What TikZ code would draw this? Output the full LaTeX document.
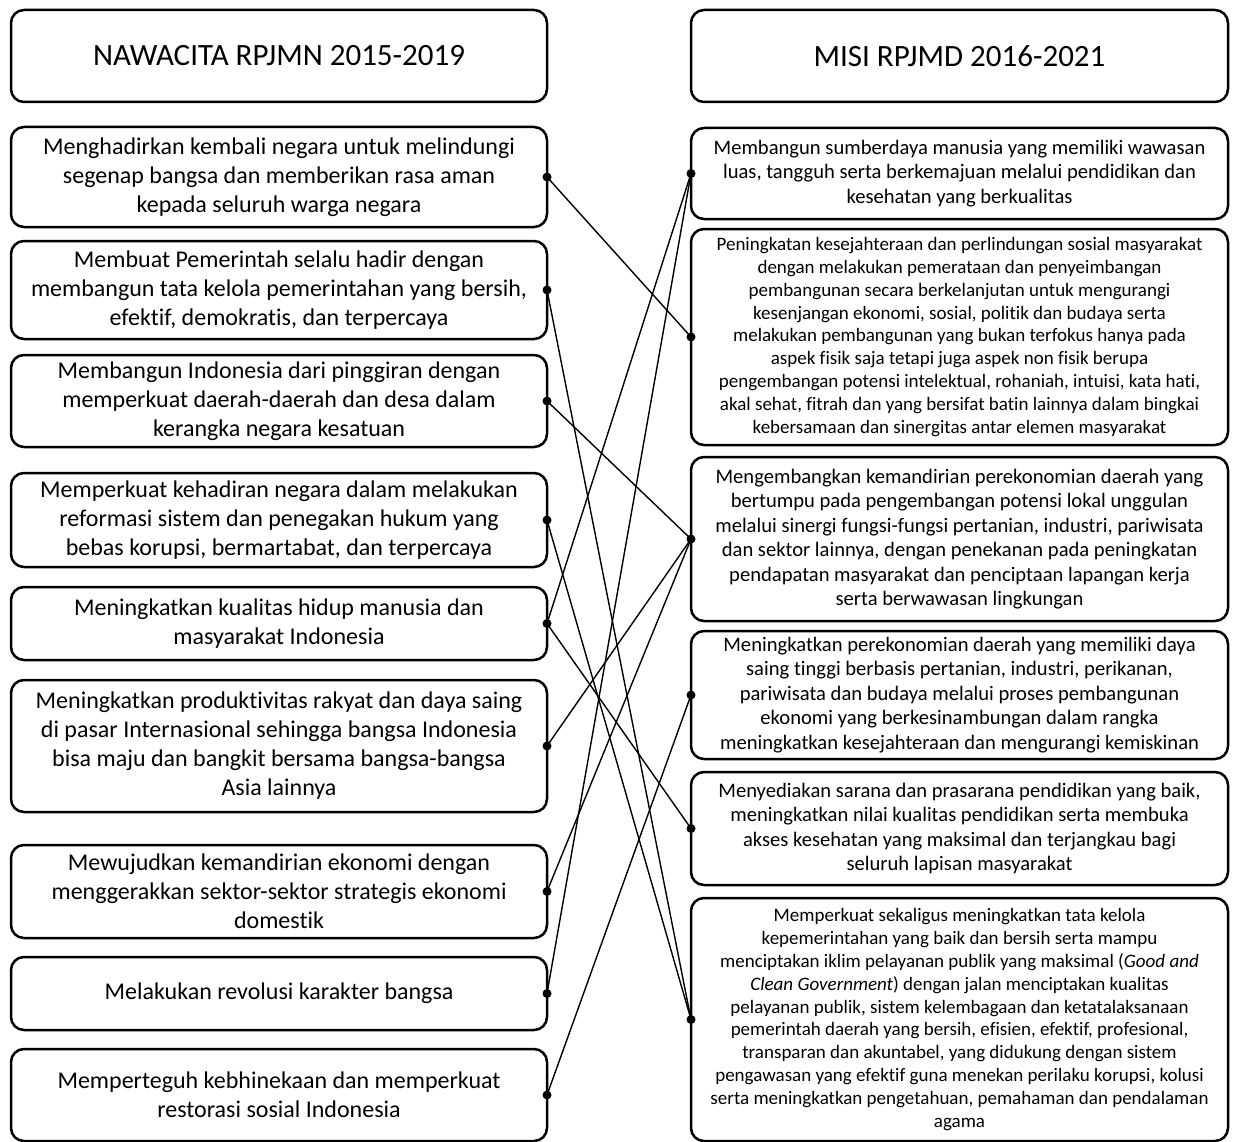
\documentclass[tikz,border=0pt]{standalone}
\usepackage{fontspec}
\setmainfont{Carlito}[Ligatures=NoCommon]
\tikzset{
  card/.style={draw, rounded corners=13, line width=2.5, outer sep=0, inner sep=0, align=center},
  title/.style={card, minimum width=536, minimum height=92, font=\fontsize{31}{36}\selectfont},
  leftbox/.style={card, minimum width=536, font=\fontsize{24}{29}\selectfont},
  rightbox/.style={card, minimum width=537, font=\fontsize{20.6}{24.5}\selectfont},
  longbox/.style={card, minimum width=537, font=\fontsize{19}{22.8}\selectfont},
  link/.style={line width=1.4}
}

\begin{document}
\begin{tikzpicture}[x=1pt, y=-1pt]
\useasboundingbox (0,0) rectangle (1236,1142);

\node [title] (TL) at (279,56) {NAWACITA RPJMN 2015-2019};
\node [title, minimum width=537] (TR) at (959.5,56) {MISI RPJMD 2016-2021};

% nawacita
\node [leftbox, minimum height=100] (L1) at (279,177) {Menghadirkan kembali negara untuk melindungi\\segenap bangsa dan memberikan rasa aman\\kepada seluruh warga negara};
\node [leftbox, minimum height=98] (L2) at (279,290) {Membuat Pemerintah selalu hadir dengan\\membangun tata kelola pemerintahan yang bersih,\\efektif, demokratis, dan terpercaya};
\node [leftbox, minimum height=92] (L3) at (279,401) {Membangun Indonesia dari pinggiran dengan\\memperkuat daerah-daerah dan desa dalam\\kerangka negara kesatuan};
\node [leftbox, minimum height=94] (L4) at (279,520) {Memperkuat kehadiran negara dalam melakukan\\reformasi sistem dan penegakan hukum yang\\bebas korupsi, bermartabat, dan terpercaya};
\node [leftbox, minimum height=73] (L5) at (279,623.5) {Meningkatkan kualitas hidup manusia dan\\masyarakat Indonesia};
\node [leftbox, minimum height=132] (L6) at (279,746) {Meningkatkan produktivitas rakyat dan daya saing\\di pasar Internasional sehingga bangsa Indonesia\\bisa maju dan bangkit bersama bangsa-bangsa\\Asia lainnya};
\node [leftbox, minimum height=93] (L7) at (279,891.5) {Mewujudkan kemandirian ekonomi dengan\\menggerakkan sektor-sektor strategis ekonomi\\domestik};
\node [leftbox, minimum height=73] (L8) at (279,993.5) {Melakukan revolusi karakter bangsa};
\node [leftbox, minimum height=92] (L9) at (279,1095) {Memperteguh kebhinekaan dan memperkuat\\restorasi sosial Indonesia};

% misi
\node [rightbox, minimum height=91] (R1) at (959.5,173.5) {Membangun sumberdaya manusia yang memiliki wawasan\\luas, tangguh serta berkemajuan melalui pendidikan dan\\kesehatan yang berkualitas};
\node [longbox, minimum height=216] (R2) at (959.5,337) {Peningkatan kesejahteraan dan perlindungan sosial masyarakat\\dengan melakukan pemerataan dan penyeimbangan\\pembangunan secara berkelanjutan untuk mengurangi\\kesenjangan ekonomi, sosial, politik dan budaya serta\\melakukan pembangunan yang bukan terfokus hanya pada\\aspek fisik saja tetapi juga aspek non fisik berupa\\pengembangan potensi intelektual, rohaniah, intuisi, kata hati,\\akal sehat, fitrah dan yang bersifat batin lainnya dalam bingkai\\kebersamaan dan sinergitas antar elemen masyarakat};
\node [rightbox, minimum height=164] (R3) at (959.5,539) {Mengembangkan kemandirian perekonomian daerah yang\\bertumpu pada pengembangan potensi lokal unggulan\\melalui sinergi fungsi-fungsi pertanian, industri, pariwisata\\dan sektor lainnya, dengan penekanan pada peningkatan\\pendapatan masyarakat dan penciptaan lapangan kerja\\serta berwawasan lingkungan};
\node [rightbox, minimum height=128] (R4) at (959.5,695) {Meningkatkan perekonomian daerah yang memiliki daya\\saing tinggi berbasis pertanian, industri, perikanan,\\pariwisata dan budaya melalui proses pembangunan\\ekonomi yang berkesinambungan dalam rangka\\meningkatkan kesejahteraan dan mengurangi kemiskinan};
\node [rightbox, minimum height=113] (R5) at (959.5,828.5) {Menyediakan sarana dan prasarana pendidikan yang baik,\\meningkatkan nilai kualitas pendidikan serta membuka\\akses kesehatan yang maksimal dan terjangkau bagi\\seluruh lapisan masyarakat};
\node [longbox, minimum height=243] (R6) at (959.5,1019.5) {Memperkuat sekaligus meningkatkan tata kelola\\kepemerintahan yang baik dan bersih serta mampu\\menciptakan iklim pelayanan publik yang maksimal (\textit{Good and}\\\textit{Clean Government}) dengan jalan menciptakan kualitas\\pelayanan publik, sistem kelembagaan dan ketatalaksanaan\\pemerintah daerah yang bersih, efisien, efektif, profesional,\\transparan dan akuntabel, yang didukung dengan sistem\\pengawasan yang efektif guna menekan perilaku korupsi, kolusi\\serta meningkatkan pengetahuan, pemahaman dan pendalaman\\agama};

% links
\foreach \a/\b in {1/2, 2/6, 3/3, 4/6, 5/1, 5/5, 6/3, 7/3, 8/1, 9/4}
  \draw [link] (L\a.east) -- (R\b.west);

\foreach \i in {1,...,9}
  \fill (L\i.east) circle (4.5pt);
\foreach \i in {1,...,6}
  \fill (R\i.west) circle (4.5pt);

\end{tikzpicture}
\end{document}
